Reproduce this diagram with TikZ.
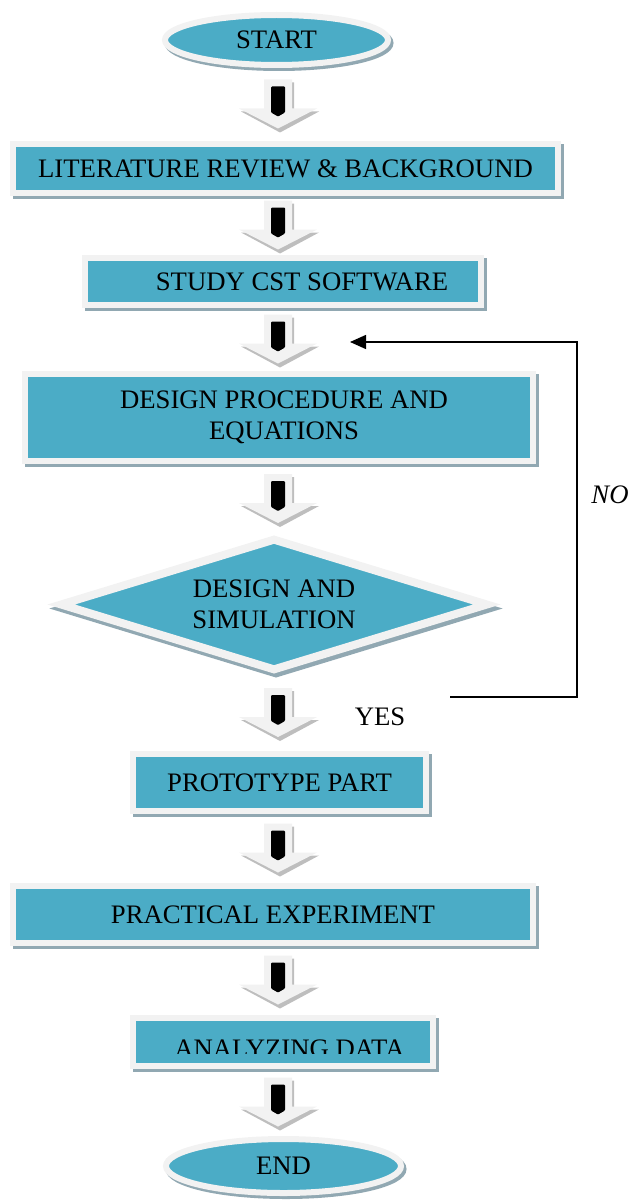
\documentclass[tikz,border=0pt]{standalone}
\usepackage{fontspec}
\setmainfont{Liberation Serif}
\usetikzlibrary{shapes.geometric,arrows.meta,calc}
\definecolor{tealc}{HTML}{4BACC6}
\definecolor{framec}{HTML}{F2F2F2}
\definecolor{shadowc}{RGB}{145,168,178}
\definecolor{arrfill}{HTML}{F2F2F2}
\definecolor{arrshade}{RGB}{190,190,190}
\tikzset{
  shadowed/.style={preaction={draw=shadowc, fill=shadowc, transform canvas={shift={(2.5pt,-3pt)}}}},
  procbox/.style={rectangle, fill=tealc, draw=framec, line width=6pt, inner sep=0pt, shadowed, align=center},
  termbox/.style={ellipse, fill=tealc, draw=framec, line width=6pt, inner sep=0pt, shadowed},
  decbox/.style={diamond, aspect=3.2, fill=tealc, draw=framec, line width=8pt, miter limit=10, inner sep=0pt, align=center,
     preaction={draw=shadowc, fill=shadowc, transform canvas={shift={(2pt,-4pt)}}}},
  loopline/.style={draw=black, line width=1.4pt, -{Triangle[length=16pt,width=14pt]}},
  blockarr/.pic={
    \fill[arrshade] (-12,-22) -- (16,-22) -- (16,7) -- (41,7) -- (2,28) -- (-37,7) -- (-12,7) -- cycle;
    \fill[arrfill] (-14,-25) -- (14,-25) -- (14,4) -- (39,4) -- (0,24) -- (-39,4) -- (-14,4) -- cycle;
    \fill[black, rounded corners=1pt] (-7,-18) -- (7,-18) -- (7,8) -- (0,12) -- (-7,8) -- cycle;
  }
}
\begin{document}
\begin{tikzpicture}[x=1pt, y=-1pt, font=\fontsize{26.7}{31}\selectfont]
\useasboundingbox (0,0) rectangle (630,1204);
% nodes
\node[termbox, minimum width=223pt, minimum height=50pt] (start) at (276.5,40) {START};
\node[procbox, minimum width=545pt, minimum height=49pt] (lit) at (285.5,168.5) {LITERATURE REVIEW \& BACKGROUND};
\node[procbox, minimum width=396pt, minimum height=47pt] (study) at (283,281.5) {\hspace*{38pt}STUDY CST SOFTWARE};
\node[procbox, minimum width=508pt, minimum height=87pt] (dp) at (279,417.5) {\hspace*{10pt}DESIGN PROCEDURE AND\\\hspace*{10pt}EQUATIONS};
\node[decbox, minimum width=429pt, minimum height=133pt] (sim) at (274,604.5) {DESIGN AND\\SIMULATION};
\node[procbox, minimum width=293pt, minimum height=57pt] (proto) at (279.5,782.5) {PROTOTYPE PART};
\node[procbox, minimum width=520pt, minimum height=57pt] (prac) at (273,914.5) {PRACTICAL EXPERIMENT};
\node[procbox, minimum width=300pt, minimum height=48pt] (ana) at (283,1042) {};
\begin{scope}
  \clip (ana.north west) rectangle (630,1053);
  \node[inner sep=0pt] (anatext) at (289.5,1049) {ANALYZING DATA};
\end{scope}
\node[termbox, minimum width=235pt, minimum height=54pt] (end) at (283.5,1166) {END};
% block arrows between nodes
\coordinate (m1) at ($(start.south)!0.5!(lit.north)$);
\coordinate (m2) at ($(lit.south)!0.5!(study.north)$);
\coordinate (m3) at ($(study.south)!0.5!(dp.north)$);
\coordinate (m4) at ($(dp.south)!0.5!(sim.north)$);
\coordinate (m5) at ($(sim.south)!0.5!(proto.north)$);
\coordinate (m6) at ($(proto.south)!0.5!(prac.north)$);
\coordinate (m7) at ($(prac.south)!0.5!(ana.north)$);
\coordinate (m8) at ($(ana.south)!0.5!(end.north)$);
\pic (a1) at (278,0 |- m1) {blockarr};
\pic (a2) at (278,0 |- m2) {blockarr};
\pic (a3) at (278,0 |- m3) {blockarr};
\pic (a4) at (278,0 |- m4) {blockarr};
\pic (a5) at (278,0 |- m5) {blockarr};
\pic (a6) at (278,0 |- m6) {blockarr};
\pic (a7) at (278,0 |- m7) {blockarr};
\pic (a8) at (278,0 |- m8) {blockarr};
% NO loop
\coordinate (nofrom) at (450,697);
\coordinate (loopcorner) at (577,342);
\coordinate (noto) at (350,342);
\draw[loopline] (nofrom) -| (loopcorner) -- (noto);
\node (yes) at (380,717) {YES};
\node (no) at (610,495) {\itshape NO};
\end{tikzpicture}
\end{document}
